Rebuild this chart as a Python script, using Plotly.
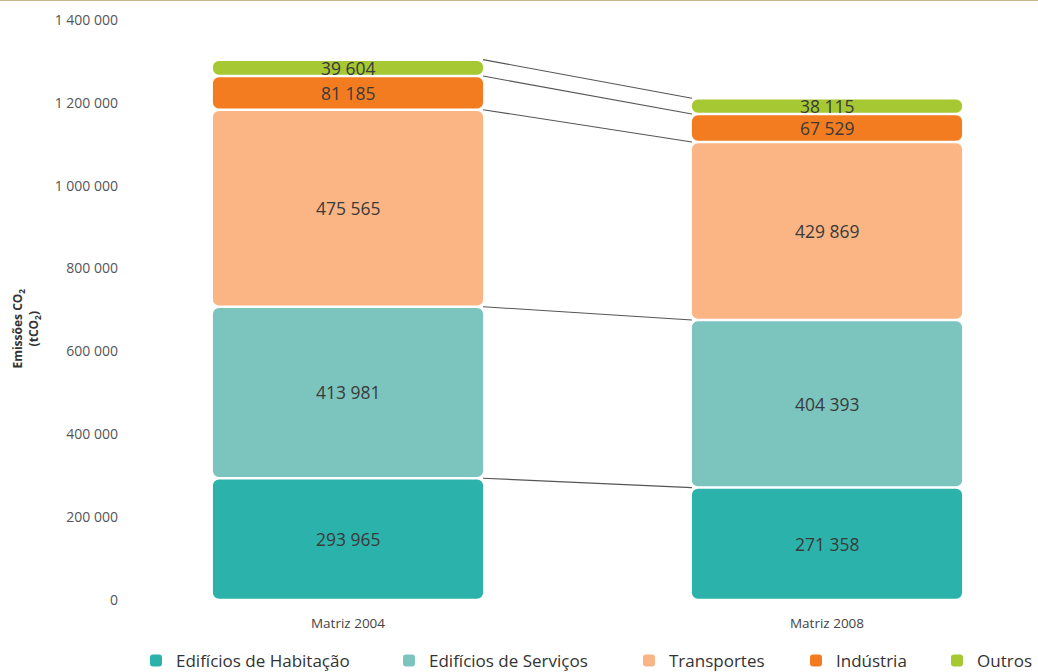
import plotly.graph_objects as go

# ---- data -------------------------------------------------------------
categories = ["Matriz 2004", "Matriz 2008"]
series_names = ["Edifícios de Habitação", "Edifícios de Serviços", "Transportes", "Indústria", "Outros"]
habitacao = [293965, 271358]
servicos = [413981, 404393]
transportes = [475565, 429869]
industria = [81185, 67529]
outros = [39604, 38115]
tick_values = [0, 200000, 400000, 600000, 800000, 1000000, 1200000, 1400000]
tick_labels = ["0", "200 000", "400 000", "600 000", "800 000", "1 000 000", "1 200 000", "1 400 000"]

# ---- style ------------------------------------------------------------
colors = ["#2bb3ab", "#7cc5bf", "#fbb584", "#f37c21", "#a6c832"]
legend_text_x = [176, 429, 669, 836, 977]   # px where each legend label starts
FONT = "Open Sans"
BAR_W = 0.564
INSET = 3000          # half of the white gap separating stacked segments
RADIUS = 6

series = [habitacao, servicos, transportes, industria, outros]
x_pos = list(range(len(categories)))


def fmt(v):
    return f"{v:,}".replace(",", " ")


fig = go.Figure()
bottoms = [0] * len(categories)
segment_tops = []
annotations = []

for k, (name, vals, color) in enumerate(zip(series_names, series, colors)):
    tops = [b + v for b, v in zip(bottoms, vals)]
    lo = [b + INSET for b in bottoms]
    hi = [t - INSET for t in tops]
    legend_id = "legend" if k == 0 else f"legend{k + 1}"

    # each segment is its own bar on an explicit base, rounded at both ends
    fig.add_trace(go.Bar(
        x=x_pos, y=[h - l for h, l in zip(hi, lo)], base=lo, width=BAR_W,
        marker=dict(color=color, cornerradius=RADIUS, line=dict(width=0)),
        name=name, legend=legend_id, hoverinfo="skip",
    ))

    for j, v in enumerate(vals):
        annotations.append(dict(
            x=x_pos[j], y=bottoms[j] + v / 2, xref="x", yref="y",
            text=fmt(v), showarrow=False,
            font=dict(family=FONT, size=17.5, color="#3a3a3a"),
        ))

    segment_tops.append(tops)
    bottoms = tops

# connector lines between the tops of matching segments
for tops in segment_tops:
    fig.add_trace(go.Scatter(
        x=[x_pos[0] + BAR_W / 2, x_pos[1] - BAR_W / 2], y=tops,
        mode="lines", line=dict(color="#555555", width=1.1),
        showlegend=False, hoverinfo="skip",
    ))

# axis title
annotations.append(dict(
    x=-0.1094, y=0.468, xref="paper", yref="paper",
    text="<b>Emissões CO<sub>2</sub><br>(tCO<sub>2</sub>)</b>",
    textangle=-90, showarrow=False, xanchor="center", yanchor="middle",
    font=dict(family=FONT, size=12, color="#333333"),
))

legend_style = dict(
    orientation="h", xref="container", yref="container",
    y=(672 - 661) / 672, yanchor="middle", xanchor="left",
    font=dict(family=FONT, size=17, color="#333333"),
    bgcolor="rgba(0,0,0,0)", itemwidth=30,
)
legends = {}
for k, tx in enumerate(legend_text_x):
    key = "legend" if k == 0 else f"legend{k + 1}"
    legends[key] = dict(legend_style, x=(tx - 40) / 1038)

fig.update_layout(
    width=1038, height=672,
    margin=dict(l=125, r=8, t=20, b=72),
    paper_bgcolor="white", plot_bgcolor="white",
    barmode="overlay",
    font=dict(family=FONT, color="#444444"),
    xaxis=dict(
        range=[-(348 - 125) / 479, 1 + (1030 - 827) / 479],
        tickvals=x_pos, ticktext=categories,
        tickfont=dict(family=FONT, size=13.5, color="#444444"),
        showgrid=False, zeroline=False, showline=False, ticks="",
        ticklabelstandoff=13, fixedrange=True,
    ),
    yaxis=dict(
        range=[0, 1400000], tickvals=tick_values, ticktext=tick_labels,
        tickfont=dict(family=FONT, size=14, color="#555555"),
        showgrid=False, zeroline=False, showline=False, ticks="",
        ticklabelstandoff=6, fixedrange=True,
    ),
    annotations=annotations,
    shapes=[dict(
        type="line", xref="paper", yref="paper",
        x0=-125 / 905, x1=(1038 - 125) / 905, y0=600 / 580, y1=600 / 580,
        line=dict(color="#c8b98b", width=2),
    )],
    **legends,
)

fig.write_html("out.html")
